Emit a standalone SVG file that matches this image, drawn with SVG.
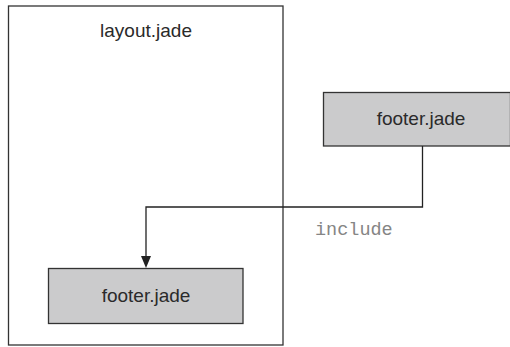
<svg xmlns="http://www.w3.org/2000/svg" width="510" height="347" viewBox="0 0 510 347">
<style>
.frame{fill:#fff;stroke:#333;stroke-width:1.3}
.box{fill:#cbcbcc;stroke:#333;stroke-width:1.3}
.lbl{font-family:"Liberation Sans",Arial,sans-serif;font-size:19px;fill:#2a2a2a;text-anchor:middle}
.mono{font-family:"Liberation Mono","Courier New",monospace;font-size:18.5px;fill:#858585}
.conn{fill:none;stroke:#222;stroke-width:1.3}
</style>
<rect width="510" height="347" fill="#fff"/>
<g id="layout">
<rect class="frame" x="8.5" y="6" width="274.5" height="339"/>
<text class="lbl" x="146" y="37">layout.jade</text>
</g>
<g id="footer-src">
<rect class="box" x="323.5" y="92.5" width="187" height="53.5"/>
<text class="lbl" x="421" y="124.5">footer.jade</text>
</g>
<g id="footer-inc">
<rect class="box" x="48.5" y="268.5" width="194.5" height="55"/>
<text class="lbl" x="146" y="302">footer.jade</text>
</g>
<g id="connectors">
<path class="conn" d="M422.5,146 V207 H146 V256" />
<path d="M141,256 L151,256 L146,268 Z" fill="#222"/>
<text class="mono" x="315" y="235">include</text>
</g>
</svg>
